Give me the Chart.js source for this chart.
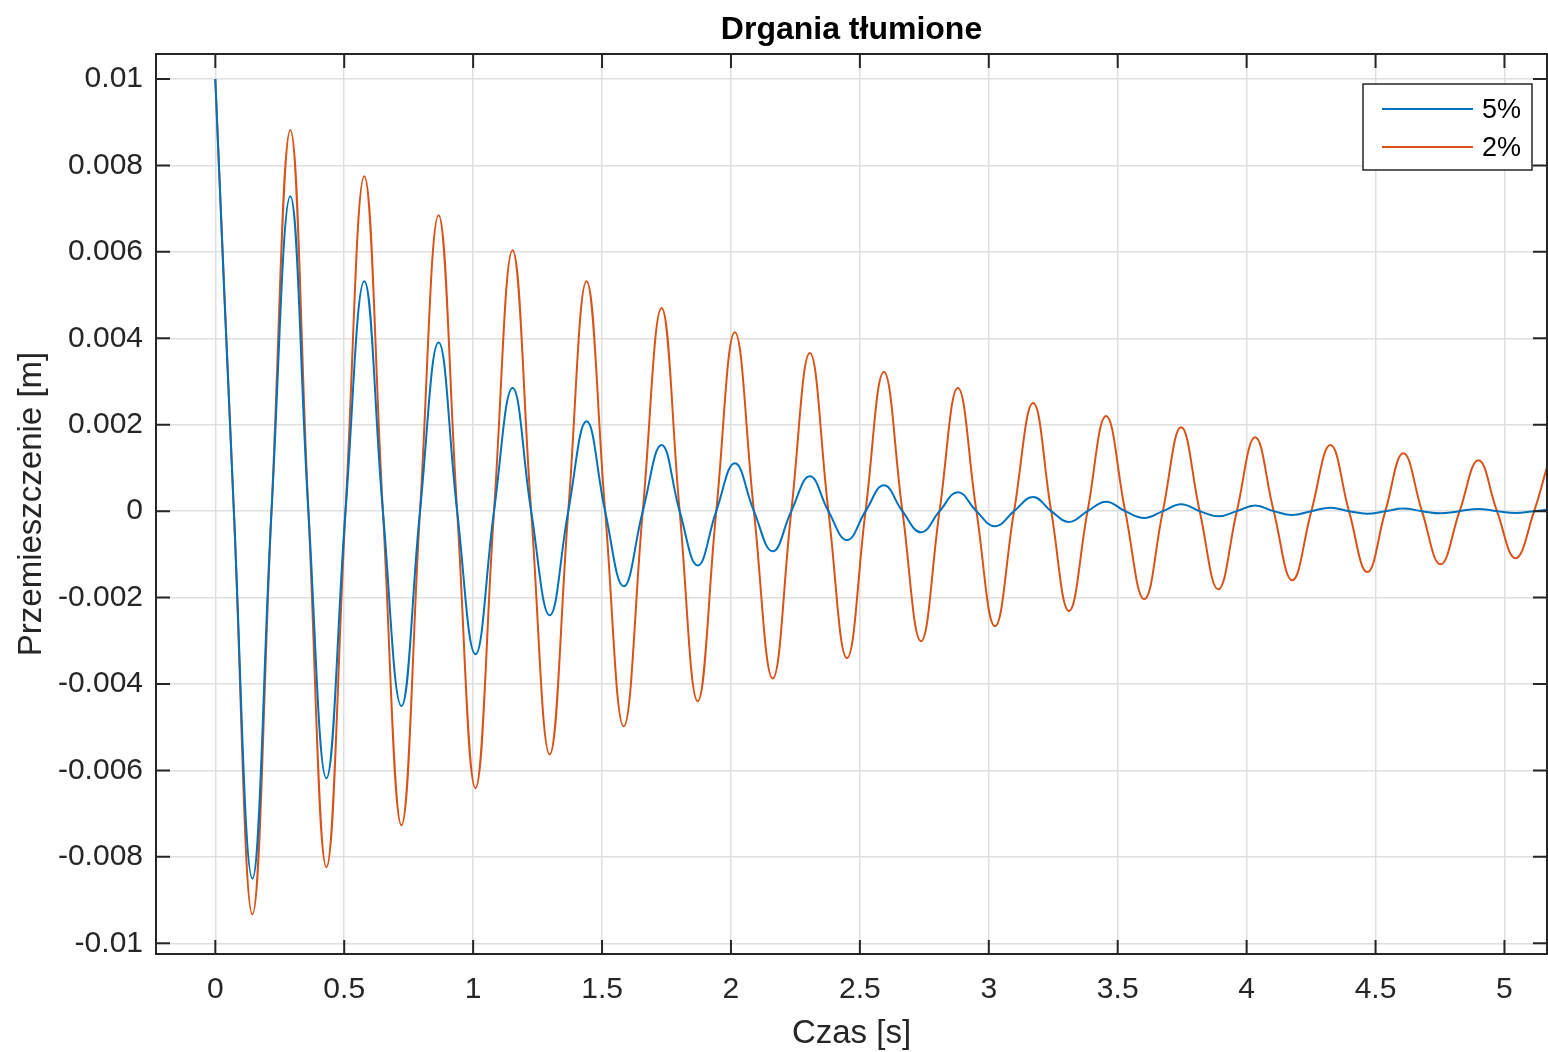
<!DOCTYPE html>
<html>
<head>
  <meta charset="UTF-8">
  <title>Drgania tłumione</title>
  <script src="https://cdn.jsdelivr.net/npm/chart.js"></script>
  <style>
    body {
      margin: 0;
      background: #ffffff;
    }
    canvas {
      display: block;
    }
  </style>
</head>
<body>
  <canvas id="wykres" width="1548" height="1052"></canvas>

  <script>
    // czasy ekstremów [s]
    const tEkstr = [0, 0.144, 0.291, 0.431, 0.578, 0.722, 0.866, 1.009, 1.153, 1.297,
      1.440, 1.584, 1.731, 1.871, 2.015, 2.162, 2.306, 2.450, 2.593, 2.737,
      2.880, 3.024, 3.172, 3.311, 3.455, 3.603, 3.746, 3.890, 4.033, 4.177,
      4.325, 4.468, 4.608, 4.752, 4.899, 5.043];
    // przejścia przez zero [s]
    const tZero = [0.072, 0.218, 0.361, 0.505, 0.650, 0.794, 0.938, 1.081, 1.225, 1.369,
      1.512, 1.658, 1.801, 1.943, 2.089, 2.234, 2.378, 2.522, 2.665, 2.809,
      2.952, 3.098, 3.242, 3.383, 3.529, 3.675, 3.818, 3.962, 4.105, 4.251,
      4.397, 4.538, 4.680, 4.826, 4.971, 5.115];
    const tKoniec = 5.165;

    // wartości w ekstremach [m]
    const amp5 = [0.01, -0.0085, 0.00729, -0.00618, 0.00532, -0.00451, 0.0039, -0.00331, 0.00285, -0.00241,
      0.00208, -0.00174, 0.00153, -0.00126, 0.00111, -0.00093, 0.00081, -0.00067, 0.0006, -0.00049,
      0.00044, -0.00035, 0.00033, -0.00025, 0.00022, -0.00016, 0.00016, -0.00012, 0.00013, -0.00009,
      0.00008, -0.00006, 0.00006, -0.00005, 0.00005, -0.00004];
    const amp2 = [0.01, -0.00933, 0.00882, -0.00824, 0.00775, -0.00727, 0.00685, -0.00641, 0.00604, -0.00563,
      0.00532, -0.00498, 0.0047, -0.0044, 0.00414, -0.00387, 0.00366, -0.0034, 0.00322, -0.00301,
      0.00285, -0.00266, 0.0025, -0.00231, 0.0022, -0.00204, 0.00194, -0.00181, 0.00171, -0.0016,
      0.00153, -0.00141, 0.00134, -0.00123, 0.00118, -0.00109];
    const koniec5 = 0.00003;
    const koniec2 = 0.00102;

    const xTicks = [0, 0.5, 1, 1.5, 2, 2.5, 3, 3.5, 4, 4.5, 5];
    const yTicks = [-0.01, -0.008, -0.006, -0.004, -0.002, 0, 0.002, 0.004, 0.006, 0.008, 0.01];

    const FONT = "'Liberation Sans', Arial, Helvetica, sans-serif";
    const CIEMNY = '#262626';

    function punkty(amp, koniec) {
      const pts = [];
      for (let i = 0; i < tEkstr.length; i++) {
        pts.push({ x: tEkstr[i], y: amp[i] });
        pts.push({ x: tZero[i], y: 0 });
      }
      pts.push({ x: tKoniec, y: koniec });
      return pts;
    }

    // ramka w stylu MATLAB z kreskami do wewnątrz
    const ramka = {
      id: 'ramka',
      afterDatasetsDraw(chart) {
        const { ctx, chartArea: a, scales } = chart;
        const dl = 14;
        ctx.save();
        ctx.strokeStyle = CIEMNY;
        ctx.lineWidth = 2;
        ctx.strokeRect(a.left, a.top, a.right - a.left, a.bottom - a.top);
        ctx.beginPath();
        scales.x.ticks.forEach(t => {
          const px = scales.x.getPixelForValue(t.value);
          ctx.moveTo(px, a.bottom); ctx.lineTo(px, a.bottom - dl);
          ctx.moveTo(px, a.top); ctx.lineTo(px, a.top + dl);
        });
        scales.y.ticks.forEach(t => {
          const py = scales.y.getPixelForValue(t.value);
          ctx.moveTo(a.left, py); ctx.lineTo(a.left + dl, py);
          ctx.moveTo(a.right, py); ctx.lineTo(a.right - dl, py);
        });
        ctx.stroke();
        ctx.restore();
      }
    };

    const legenda = {
      id: 'legenda',
      afterDraw(chart) {
        const { ctx, chartArea: a } = chart;
        const x0 = a.right - 184, y0 = a.top + 30, w = 169, h = 86;
        ctx.save();
        ctx.fillStyle = '#ffffff';
        ctx.fillRect(x0, y0, w, h);
        ctx.strokeStyle = CIEMNY;
        ctx.lineWidth = 1.5;
        ctx.strokeRect(x0, y0, w, h);
        ctx.font = '27px ' + FONT;
        ctx.textBaseline = 'middle';
        ctx.textAlign = 'left';
        chart.data.datasets.forEach((ds, i) => {
          const y = y0 + 25 + i * 38;
          ctx.strokeStyle = ds.borderColor;
          ctx.lineWidth = 2;
          ctx.beginPath();
          ctx.moveTo(x0 + 19, y);
          ctx.lineTo(x0 + 110, y);
          ctx.stroke();
          ctx.fillStyle = '#000000';
          ctx.fillText(ds.label, x0 + 119, y + 2);
        });
        ctx.restore();
      }
    };

    const ctx = document.getElementById('wykres').getContext('2d');
    new Chart(ctx, {
      type: 'line',
      data: {
        datasets: [{
          label: '5%',
          data: punkty(amp5, koniec5),
          borderColor: '#0072BD',
          borderWidth: 2,
          pointRadius: 0,
          tension: 0.42,
          fill: false
        }, {
          label: '2%',
          data: punkty(amp2, koniec2),
          borderColor: '#D95319',
          borderWidth: 2,
          pointRadius: 0,
          tension: 0.42,
          fill: false
        }]
      },
      options: {
        responsive: false,
        animation: false,
        devicePixelRatio: 1,
        layout: { padding: { right: 1 } },
        scales: {
          x: {
            type: 'linear',
            min: -0.23,
            max: 5.165,
            afterBuildTicks: s => { s.ticks = xTicks.map(v => ({ value: v })); },
            afterFit: s => { s.height = 98; },
            grid: { color: '#dfdfdf', lineWidth: 1.5, drawTicks: false },
            border: { display: false },
            ticks: {
              color: CIEMNY,
              padding: 18,
              maxRotation: 0,
              font: { family: FONT, size: 30 },
              callback: v => String(v)
            },
            title: {
              display: true,
              text: 'Czas [s]',
              color: CIEMNY,
              font: { family: FONT, size: 33, lineHeight: 1.08 },
              padding: { top: 0, bottom: 0 }
            }
          },
          y: {
            min: -0.010248,
            max: 0.010579,
            afterBuildTicks: s => { s.ticks = yTicks.map(v => ({ value: v })); },
            afterFit: s => { s.width = 156; },
            grid: { color: '#dfdfdf', lineWidth: 1.5, drawTicks: false },
            border: { display: false },
            ticks: {
              color: CIEMNY,
              padding: 13,
              font: { family: FONT, size: 30 },
              callback: v => String(v)
            },
            title: {
              display: true,
              text: 'Przemieszczenie [m]',
              color: CIEMNY,
              font: { family: FONT, size: 33 },
              padding: { top: 12, bottom: 0 }
            }
          }
        },
        plugins: {
          legend: { display: false },
          tooltip: { enabled: false },
          title: {
            display: true,
            text: 'Drgania tłumione',
            color: '#000000',
            fullSize: false,
            font: { family: FONT, size: 32, weight: 'bold' },
            padding: { top: 11, bottom: 4.6 }
          }
        }
      },
      plugins: [ramka, legenda]
    });
  </script>
</body>
</html>
